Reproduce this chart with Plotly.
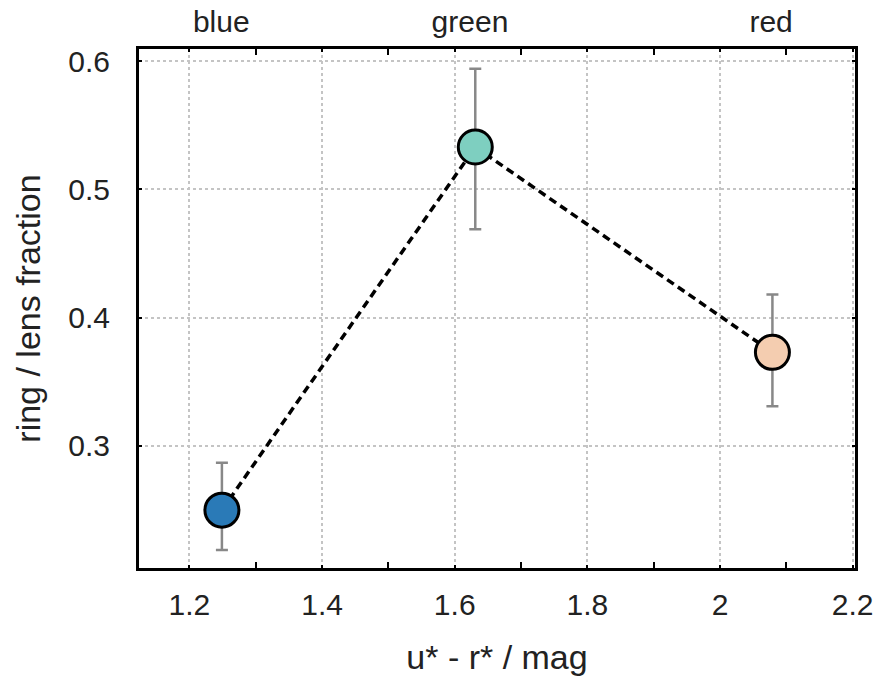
import plotly.graph_objects as go

# data
labels = ["blue", "green", "red"]
colour_index = [1.249, 1.631, 2.079]          # u* - r* / mag
ring_fraction = [0.250, 0.533, 0.373]
err_plus = [0.037, 0.061, 0.045]
err_minus = [0.031, 0.064, 0.042]
label_pos = [1.248, 1.623, 2.077]
marker_colors = ["#2a7ab7", "#7ecfc0", "#f4cdb0"]
x_ticks = [1.2, 1.4, 1.6, 1.8, 2.0, 2.2]
x_minor = [1.3, 1.5, 1.7, 1.9, 2.1]
y_ticks = [0.3, 0.4, 0.5, 0.6]

FONT = "Liberation Sans, Arial, Helvetica, sans-serif"
TXT = "#222222"

fig = go.Figure()
fig.add_trace(go.Scatter(
    x=colour_index, y=ring_fraction,
    mode="lines+markers",
    line=dict(color="black", width=3.5, dash="8px,5px"),
    marker=dict(size=34, color=marker_colors, line=dict(color="black", width=3)),
    error_y=dict(type="data", symmetric=False, array=err_plus, arrayminus=err_minus,
                 color="#888888", thickness=2.5, width=6),
    showlegend=False, hoverinfo="skip",
))
# invisible traces to anchor the extra axes
fig.add_trace(go.Scatter(x=label_pos, y=ring_fraction, xaxis="x2", mode="markers",
                         marker=dict(opacity=0), showlegend=False, hoverinfo="skip"))
fig.add_trace(go.Scatter(x=label_pos, y=ring_fraction, xaxis="x3", mode="markers",
                         marker=dict(opacity=0), showlegend=False, hoverinfo="skip"))

xr = [1.124, 2.2035]
fig.update_layout(
    width=879, height=694,
    margin=dict(l=139, r=24, t=49, b=126),
    paper_bgcolor="white", plot_bgcolor="white",
    font=dict(family=FONT, size=30, color=TXT),
    xaxis=dict(
        range=xr, tickvals=x_ticks, ticks="inside", ticklen=3, tickwidth=2, tickcolor="black",
        showline=True, linecolor="black", linewidth=3, mirror="ticks",
        showgrid=True, gridcolor="#c4c4c4", gridwidth=1.5, griddash="dot",
        zeroline=False, automargin=False,
        minor=dict(ticks="inside", ticklen=6, tickwidth=2, tickcolor="black", tickvals=x_minor, showgrid=False),
        tickfont=dict(size=30, color=TXT), ticklabelstandoff=8,
        title=dict(text="u* - r* / mag", font=dict(size=34, color=TXT), standoff=26),
    ),
    xaxis2=dict(
        range=xr, overlaying="x", side="top", tickvals=label_pos, ticktext=labels,
        ticks="", showline=False, showgrid=False, zeroline=False, automargin=False,
        tickfont=dict(size=30, color=TXT), ticklabelstandoff=10,
    ),
    xaxis3=dict(
        range=xr, overlaying="x", side="top", tickvals=x_minor, showticklabels=False,
        ticks="inside", ticklen=6, tickwidth=2, tickcolor="black",
        showline=False, showgrid=False, zeroline=False, automargin=False,
    ),
    yaxis=dict(
        range=[0.2049, 0.6094], tickvals=y_ticks, ticks="inside", ticklen=3, tickwidth=2, tickcolor="black",
        showline=True, linecolor="black", linewidth=3, mirror="ticks",
        showgrid=True, gridcolor="#c4c4c4", gridwidth=1.5, griddash="dot",
        zeroline=False, automargin=False,
        tickfont=dict(size=30, color=TXT), ticklabelstandoff=20,
        title=dict(text="ring / lens fraction", font=dict(size=34, color=TXT), standoff=18),
    ),
)
fig.write_html("out.html")
